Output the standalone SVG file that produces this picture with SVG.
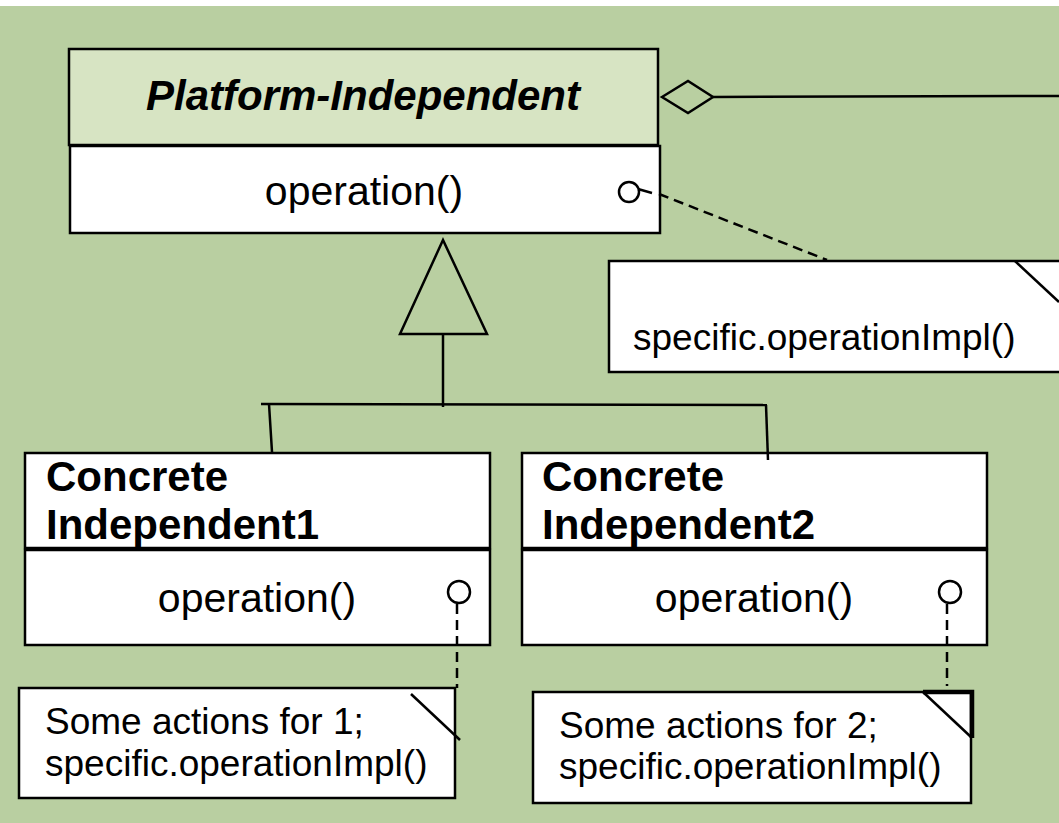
<svg xmlns="http://www.w3.org/2000/svg" width="1059" height="823" viewBox="0 0 1059 823">
<style>
.box{fill:#ffffff;stroke:#000;stroke-width:2.5}
.hdr{fill:#d7e4c3;stroke:#000;stroke-width:2.5}
.ln{fill:none;stroke:#000;stroke-width:2.5}
.dash{fill:none;stroke:#000;stroke-width:2.5;stroke-dasharray:10 6}
.t{font-family:"Liberation Sans",Arial,sans-serif;fill:#000}
.op{font-size:41px}
.nm{font-size:42px;font-weight:bold}
.note{font-size:37px}
</style>
<rect x="0" y="0" width="1059" height="823" fill="#ffffff"/>
<rect x="0" y="6" width="1059" height="817" fill="#b9cfa1"/>

<g id="platform-independent">
<rect class="hdr" x="69" y="49" width="589" height="96"/>
<text class="t" x="363" y="110" text-anchor="middle" font-size="42" font-weight="bold" font-style="italic">Platform-Independent</text>
<rect class="box" x="70" y="146" width="590" height="87"/>
<text class="t op" x="364" y="205" text-anchor="middle">operation()</text>
<circle class="ln" cx="629" cy="192" r="10"/>
</g>

<g id="note-top">
<rect class="box" x="609" y="261" width="460" height="111"/>
<line class="ln" x1="1015" y1="261" x2="1059" y2="302"/>
<text class="t note" x="633" y="350">specific.operationImpl()</text>
</g>

<g id="concrete1">
<rect class="box" x="25" y="453" width="465" height="95"/>
<text class="t nm" x="46" y="491">Concrete</text>
<text class="t nm" x="46" y="539">Independent1</text>
<rect class="box" x="25" y="550" width="465" height="95"/>
<text class="t op" x="257" y="612" text-anchor="middle">operation()</text>
<circle class="ln" cx="459" cy="592" r="11"/>
</g>

<g id="concrete2">
<rect class="box" x="522" y="453" width="465" height="95"/>
<text class="t nm" x="542" y="491">Concrete</text>
<text class="t nm" x="542" y="539">Independent2</text>
<rect class="box" x="522" y="550" width="465" height="95"/>
<text class="t op" x="754" y="612" text-anchor="middle">operation()</text>
<circle class="ln" cx="950" cy="592" r="11"/>
</g>

<g id="note1">
<rect class="box" x="19" y="688" width="436" height="110"/>
<line class="ln" x1="411" y1="694" x2="460" y2="740"/>
<text class="t note" x="45" y="734">Some actions for 1;</text>
<text class="t note" x="45" y="776">specific.operationImpl()</text>
</g>

<g id="note2">
<rect class="box" x="533" y="692" width="438" height="111"/>
<polyline points="923,692 972,692 972,738" fill="none" stroke="#000" stroke-width="4.5"/>
<line class="ln" x1="923" y1="692" x2="971" y2="737"/>
<text class="t note" x="559" y="738">Some actions for 2;</text>
<text class="t note" x="559" y="779">specific.operationImpl()</text>
</g>

<g id="connectors">
<polygon points="662,97 688,81 713,97 688,113" fill="none" stroke="#000" stroke-width="2.5"/>
<line class="ln" x1="713" y1="97" x2="1059" y2="96"/>
<polygon points="443,240 400,334 487,334" fill="none" stroke="#000" stroke-width="2.5"/>
<line class="ln" x1="443" y1="334" x2="443" y2="407"/>
<line class="ln" x1="261" y1="404" x2="767" y2="405"/>
<line class="ln" x1="269" y1="404" x2="272" y2="452"/>
<line class="ln" x1="766" y1="405" x2="768" y2="460"/>
<line class="ln" x1="638" y1="189" x2="652" y2="193"/>
<line class="dash" x1="659" y1="194" x2="827" y2="260"/>
<line class="dash" x1="457" y1="604" x2="457" y2="688" stroke-dasharray="9 5"/>
<line class="dash" x1="947" y1="604" x2="947" y2="686" stroke-dasharray="9 5"/>
</g>
</svg>
